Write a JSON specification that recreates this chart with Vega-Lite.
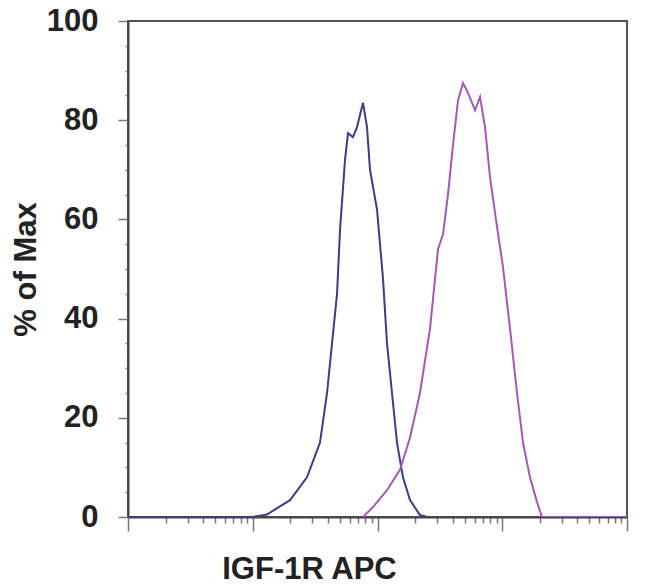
{
  "$schema": "https://vega.github.io/schema/vega-lite/v6.json",
  "autosize": "none",
  "padding": {"left": 128, "top": 21, "right": 23, "bottom": 71},
  "width": 499,
  "height": 496,
  "background": "white",
  "config": {
    "font": "Liberation Sans",
    "view": {"stroke": "#555555", "strokeWidth": 2}
  },
  "data": {
    "values": [
      {"sample": "isotype", "fl": 1, "pct": 0},
      {"sample": "isotype", "fl": 9.9, "pct": 0},
      {"sample": "isotype", "fl": 13.0, "pct": 0.5},
      {"sample": "isotype", "fl": 19.9, "pct": 3.4},
      {"sample": "isotype", "fl": 27.2, "pct": 8},
      {"sample": "isotype", "fl": 34.6, "pct": 15},
      {"sample": "isotype", "fl": 39.4, "pct": 25},
      {"sample": "isotype", "fl": 43.2, "pct": 35},
      {"sample": "isotype", "fl": 47.4, "pct": 45},
      {"sample": "isotype", "fl": 50.1, "pct": 58},
      {"sample": "isotype", "fl": 54.9, "pct": 72},
      {"sample": "isotype", "fl": 58.0, "pct": 77.4},
      {"sample": "isotype", "fl": 63.6, "pct": 76.6},
      {"sample": "isotype", "fl": 68.5, "pct": 78.6},
      {"sample": "isotype", "fl": 76.5, "pct": 83.5},
      {"sample": "isotype", "fl": 82.4, "pct": 78.6},
      {"sample": "isotype", "fl": 87.1, "pct": 70},
      {"sample": "isotype", "fl": 99.1, "pct": 62},
      {"sample": "isotype", "fl": 110.7, "pct": 48},
      {"sample": "isotype", "fl": 119.2, "pct": 35},
      {"sample": "isotype", "fl": 130.7, "pct": 25},
      {"sample": "isotype", "fl": 143.3, "pct": 15},
      {"sample": "isotype", "fl": 160.0, "pct": 8},
      {"sample": "isotype", "fl": 182.2, "pct": 3.4},
      {"sample": "isotype", "fl": 219, "pct": 0.4},
      {"sample": "isotype", "fl": 249.6, "pct": 0},
      {"sample": "IGF-1R", "fl": 76.5, "pct": 0},
      {"sample": "IGF-1R", "fl": 92.0, "pct": 2},
      {"sample": "IGF-1R", "fl": 119.2, "pct": 5.4},
      {"sample": "IGF-1R", "fl": 151.4, "pct": 9.5},
      {"sample": "IGF-1R", "fl": 182.2, "pct": 16},
      {"sample": "IGF-1R", "fl": 219, "pct": 25},
      {"sample": "IGF-1R", "fl": 263.6, "pct": 38},
      {"sample": "IGF-1R", "fl": 305.5, "pct": 54},
      {"sample": "IGF-1R", "fl": 335, "pct": 57},
      {"sample": "IGF-1R", "fl": 367.4, "pct": 65},
      {"sample": "IGF-1R", "fl": 402.8, "pct": 75},
      {"sample": "IGF-1R", "fl": 441.8, "pct": 84},
      {"sample": "IGF-1R", "fl": 484.5, "pct": 87.5},
      {"sample": "IGF-1R", "fl": 531.3, "pct": 85.5},
      {"sample": "IGF-1R", "fl": 605, "pct": 82},
      {"sample": "IGF-1R", "fl": 663, "pct": 84.7},
      {"sample": "IGF-1R", "fl": 727.6, "pct": 78.6},
      {"sample": "IGF-1R", "fl": 798, "pct": 68.5},
      {"sample": "IGF-1R", "fl": 908, "pct": 58.5},
      {"sample": "IGF-1R", "fl": 1014, "pct": 50.4},
      {"sample": "IGF-1R", "fl": 1154, "pct": 38},
      {"sample": "IGF-1R", "fl": 1313, "pct": 25},
      {"sample": "IGF-1R", "fl": 1467, "pct": 15},
      {"sample": "IGF-1R", "fl": 1668, "pct": 8},
      {"sample": "IGF-1R", "fl": 1900, "pct": 3},
      {"sample": "IGF-1R", "fl": 2083, "pct": 0},
      {"sample": "IGF-1R", "fl": 10000, "pct": 0}
    ]
  },
  "mark": {"type": "line", "strokeWidth": 2, "clip": true},
  "encoding": {
    "x": {
      "field": "fl",
      "type": "quantitative",
      "scale": {"type": "log", "domain": [1, 10000], "nice": false},
      "axis": {
        "title": "IGF-1R APC",
        "titleFontSize": 31,
        "titleFontWeight": "bold",
        "titleColor": "#222222",
        "titleX": 181,
        "titleY": 37,
        "titleAlign": "center",
        "labels": false,
        "grid": false,
        "domainColor": "#444444",
        "domainWidth": 2,
        "tickColor": "#777777",
        "tickWidth": 1.5,
        "values": [1, 2, 3, 4, 5, 6, 7, 8, 9, 10, 20, 30, 40, 50, 60, 70, 80, 90, 100, 200, 300, 400, 500, 600, 700, 800, 900, 1000, 2000, 3000, 4000, 5000, 6000, 7000, 8000, 9000, 10000],
        "tickSize": {"condition": {"test": "indexof([1, 10, 100, 1000, 10000], datum.value) >= 0", "value": 14}, "value": 6}
      }
    },
    "y": {
      "field": "pct",
      "type": "quantitative",
      "scale": {"domain": [0, 100], "nice": false},
      "axis": {
        "title": "% of Max",
        "titleFontSize": 31,
        "titleFontWeight": "bold",
        "titleColor": "#222222",
        "titlePadding": 4,
        "labelFontSize": 31,
        "labelFontWeight": "bold",
        "labelColor": "#222222",
        "labelPadding": 20,
        "grid": false,
        "domainColor": "#444444",
        "domainWidth": 2,
        "tickColor": "#777777",
        "tickWidth": 1.5,
        "values": [0, 5, 10, 15, 20, 25, 30, 35, 40, 45, 50, 55, 60, 65, 70, 75, 80, 85, 90, 95, 100],
        "labelExpr": "datum.value % 20 == 0 ? datum.label : ''",
        "tickSize": {"condition": {"test": "datum.value % 20 == 0", "value": 10}, "value": 3}
      }
    },
    "color": {
      "field": "sample",
      "type": "nominal",
      "scale": {"domain": ["isotype", "IGF-1R"], "range": ["#3d3d85", "#a658b5"]},
      "legend": null
    },
    "detail": {"field": "sample"}
  }
}
